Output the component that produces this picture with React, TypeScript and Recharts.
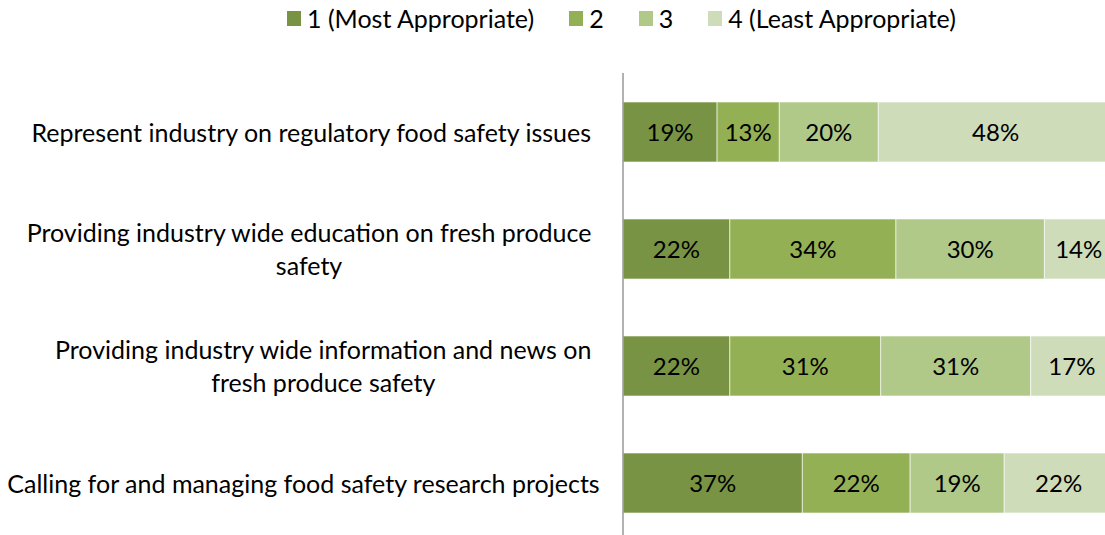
import React from 'react';
import { BarChart, Bar, XAxis, YAxis, LabelList, Legend } from 'recharts';

const categories = [
  'Represent industry on regulatory food safety issues',
  'Providing industry wide education on fresh produce\nsafety',
  'Providing industry wide information and news on\nfresh produce safety',
  'Calling for and managing food safety research projects',
];
const series1 = [19.2, 21.8, 21.8, 36.6];
const series2 = [12.7, 33.9, 30.8, 22.0];
const series3 = [20.2, 30.3, 30.6, 19.2];
const series4 = [47.9, 14.0, 16.8, 22.2];
const seriesNames = ['1 (Most Appropriate)', '2', '3', '4 (Least Appropriate)'];
const seriesKeys = ['s1', 's2', 's3', 's4'];
const colors = ['#789343', '#94B054', '#B0C888', '#CFDCB9'];

const data = categories.map((c, i) => ({
  category: c,
  s1: series1[i],
  s2: series2[i],
  s3: series3[i],
  s4: series4[i],
}));

const FONT = 'Lato, "Open Sans", sans-serif';
const FS = 25;
const BAR_FS = 24;
const LABEL_RIGHT = 592;
const LABEL_BOX_W = 577;
const LINE_H = 33;

let ctx: CanvasRenderingContext2D | null = null;
function measure(text: string): number {
  if (!ctx) ctx = document.createElement('canvas').getContext('2d');
  if (!ctx) return text.length * 11;
  ctx.font = `${FS}px Lato`;
  return ctx.measureText(text).width;
}

const CategoryTick = (props: any) => {
  const { y, payload } = props;
  const lines = String(payload.value).split('\n');
  const w = Math.max(...lines.map((l) => measure(l)));
  const cx = w > LABEL_BOX_W ? LABEL_RIGHT - LABEL_BOX_W / 2 : LABEL_RIGHT - w / 2;
  const y0 = y - ((lines.length - 1) * LINE_H) / 2;
  return (
    <g>
      {lines.map((l, i) => (
        <text
          key={i}
          x={cx}
          y={y0 + i * LINE_H}
          textAnchor="middle"
          dominantBaseline="central"
          fontFamily={FONT}
          fontSize={FS}
          fill="#000"
        >
          {l}
        </text>
      ))}
    </g>
  );
};

const LegendContent = () => (
  <div style={{ display: 'flex', alignItems: 'center', fontFamily: FONT, fontSize: FS, color: '#000', whiteSpace: 'nowrap' }}>
    {seriesNames.map((n, i) => (
      <div key={n} style={{ display: 'flex', alignItems: 'center', marginRight: 35 }}>
        <span style={{ display: 'inline-block', width: 14, height: 15, background: colors[i], marginRight: 6 }} />
        <span>{n}</span>
      </div>
    ))}
  </div>
);

const pct = (v: any) => `${Math.round(Number(v))}%`;

export default function App() {
  return (
    <div style={{ position: 'absolute', left: 0, top: 0, width: 1105, height: 535, overflow: 'hidden', background: '#fff' }}>
      <BarChart
        width={1113}
        height={545}
        data={data}
        layout="vertical"
        margin={{ top: 73, right: 0, bottom: 4, left: 0 }}
        barSize={60}
      >
        <XAxis type="number" domain={[0, 100]} hide />
        <YAxis
          type="category"
          dataKey="category"
          width={623}
          axisLine={{ stroke: '#999999', strokeWidth: 1.5 }}
          tickLine={false}
          tick={<CategoryTick />}
          interval={0}
        />
        <Legend
          layout="horizontal"
          verticalAlign="middle"
          content={<LegendContent />}
          wrapperStyle={{ position: 'absolute', top: 3, left: 287, width: 'auto', height: 'auto' }}
        />
        {seriesKeys.map((k, i) => (
          <Bar key={k} dataKey={k} name={seriesNames[i]} stackId="a" fill={colors[i]} stroke="#ffffff" strokeWidth={0.6} isAnimationActive={false}>
            <LabelList dataKey={k} position="center" formatter={pct} fill="#000" fontFamily={FONT} fontSize={BAR_FS} />
          </Bar>
        ))}
      </BarChart>
    </div>
  );
}
